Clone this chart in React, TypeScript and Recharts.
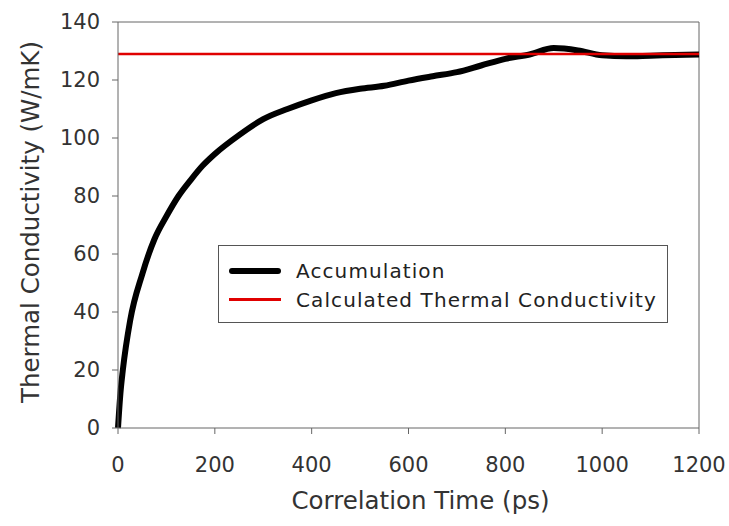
import React from 'react';
import { LineChart, Line, XAxis, YAxis, ReferenceLine, Legend } from 'recharts';

// correlation time (ps) and accumulated thermal conductivity (W/mK)
const timePs = [0, 5, 10, 25, 50, 75, 100, 125, 150, 175, 200, 250, 300, 350, 400, 450, 500, 550, 600, 650, 700, 750, 800, 850, 900, 950, 1000, 1050, 1100, 1150, 1200];
const accumulation = [0, 12, 20, 37, 53, 65, 73, 80, 85.5, 90.5, 94.5, 101, 106.5, 110, 113, 115.5, 117, 118, 119.8, 121.3, 122.7, 125, 127.3, 128.8, 131, 130.2, 128.5, 128.2, 128.4, 128.6, 128.8];
const calculatedK = 129;

const xTicks = [0, 200, 400, 600, 800, 1000, 1200];
const yTicks = [0, 20, 40, 60, 80, 100, 120, 140];

const data = timePs.map((t, i) => ({ t, acc: accumulation[i] }));

const FONT = '"DejaVu Sans", sans-serif';
const AXIS = '#666';

const LegendBox = () => (
  <div
    style={{
      border: '1.5px solid #555',
      background: '#fff',
      width: 450,
      height: 78,
      boxSizing: 'border-box',
      fontFamily: FONT,
      fontSize: 20,
      letterSpacing: 1.1,
      color: '#222',
      paddingTop: 10,
    }}
  >
    <div style={{ display: 'flex', alignItems: 'center', height: 29 }}>
      <div style={{ width: 52, height: 6, background: '#000', borderRadius: 3, marginLeft: 10, marginRight: 15 }} />
      <span>Accumulation</span>
    </div>
    <div style={{ display: 'flex', alignItems: 'center', height: 29 }}>
      <div style={{ width: 52, height: 2.5, background: '#e00000', marginLeft: 10, marginRight: 15 }} />
      <span>Calculated Thermal Conductivity</span>
    </div>
  </div>
);

export default function App() {
  return (
    <div style={{ position: 'absolute', left: 0, top: 0, width: 729, height: 526, background: '#fff' }}>
      <LineChart width={729} height={526} data={data} margin={{ top: 22, right: 30, left: 0, bottom: 0 }}>
        <XAxis
          dataKey="t"
          type="number"
          domain={[0, 1200]}
          ticks={xTicks}
          height={98}
          tickSize={6}
          tickMargin={23}
          stroke={AXIS}
          tick={{ fill: '#333', fontSize: 21, fontFamily: FONT }}
          label={{ value: 'Correlation Time (ps)', position: 'insideBottom', offset: 17, dx: 12, fill: '#333', fontSize: 24.5, fontFamily: FONT }}
        />
        <YAxis
          type="number"
          domain={[0, 140]}
          ticks={yTicks}
          width={118}
          tickSize={6}
          tickMargin={12}
          stroke={AXIS}
          tick={{ fill: '#333', fontSize: 21, fontFamily: FONT }}
          label={{ value: 'Thermal Conductivity (W/mK)', angle: -90, position: 'center', dx: -29, dy: -3, fill: '#333', fontSize: 24.5, fontFamily: FONT }}
        />
        {/* top and right frame */}
        <ReferenceLine y={140} stroke={AXIS} strokeWidth={1} />
        <ReferenceLine x={1200} stroke={AXIS} strokeWidth={1} />
        <Legend
          verticalAlign="middle"
          layout="horizontal"
          content={() => <LegendBox />}
          wrapperStyle={{ left: 218, top: 245, width: 450, height: 78 }}
        />
        <Line
          type="monotone"
          dataKey="acc"
          stroke="#000"
          strokeWidth={6}
          dot={false}
          isAnimationActive={false}
        />
        <ReferenceLine y={calculatedK} stroke="#e00000" strokeWidth={2.5} />
      </LineChart>
    </div>
  );
}
